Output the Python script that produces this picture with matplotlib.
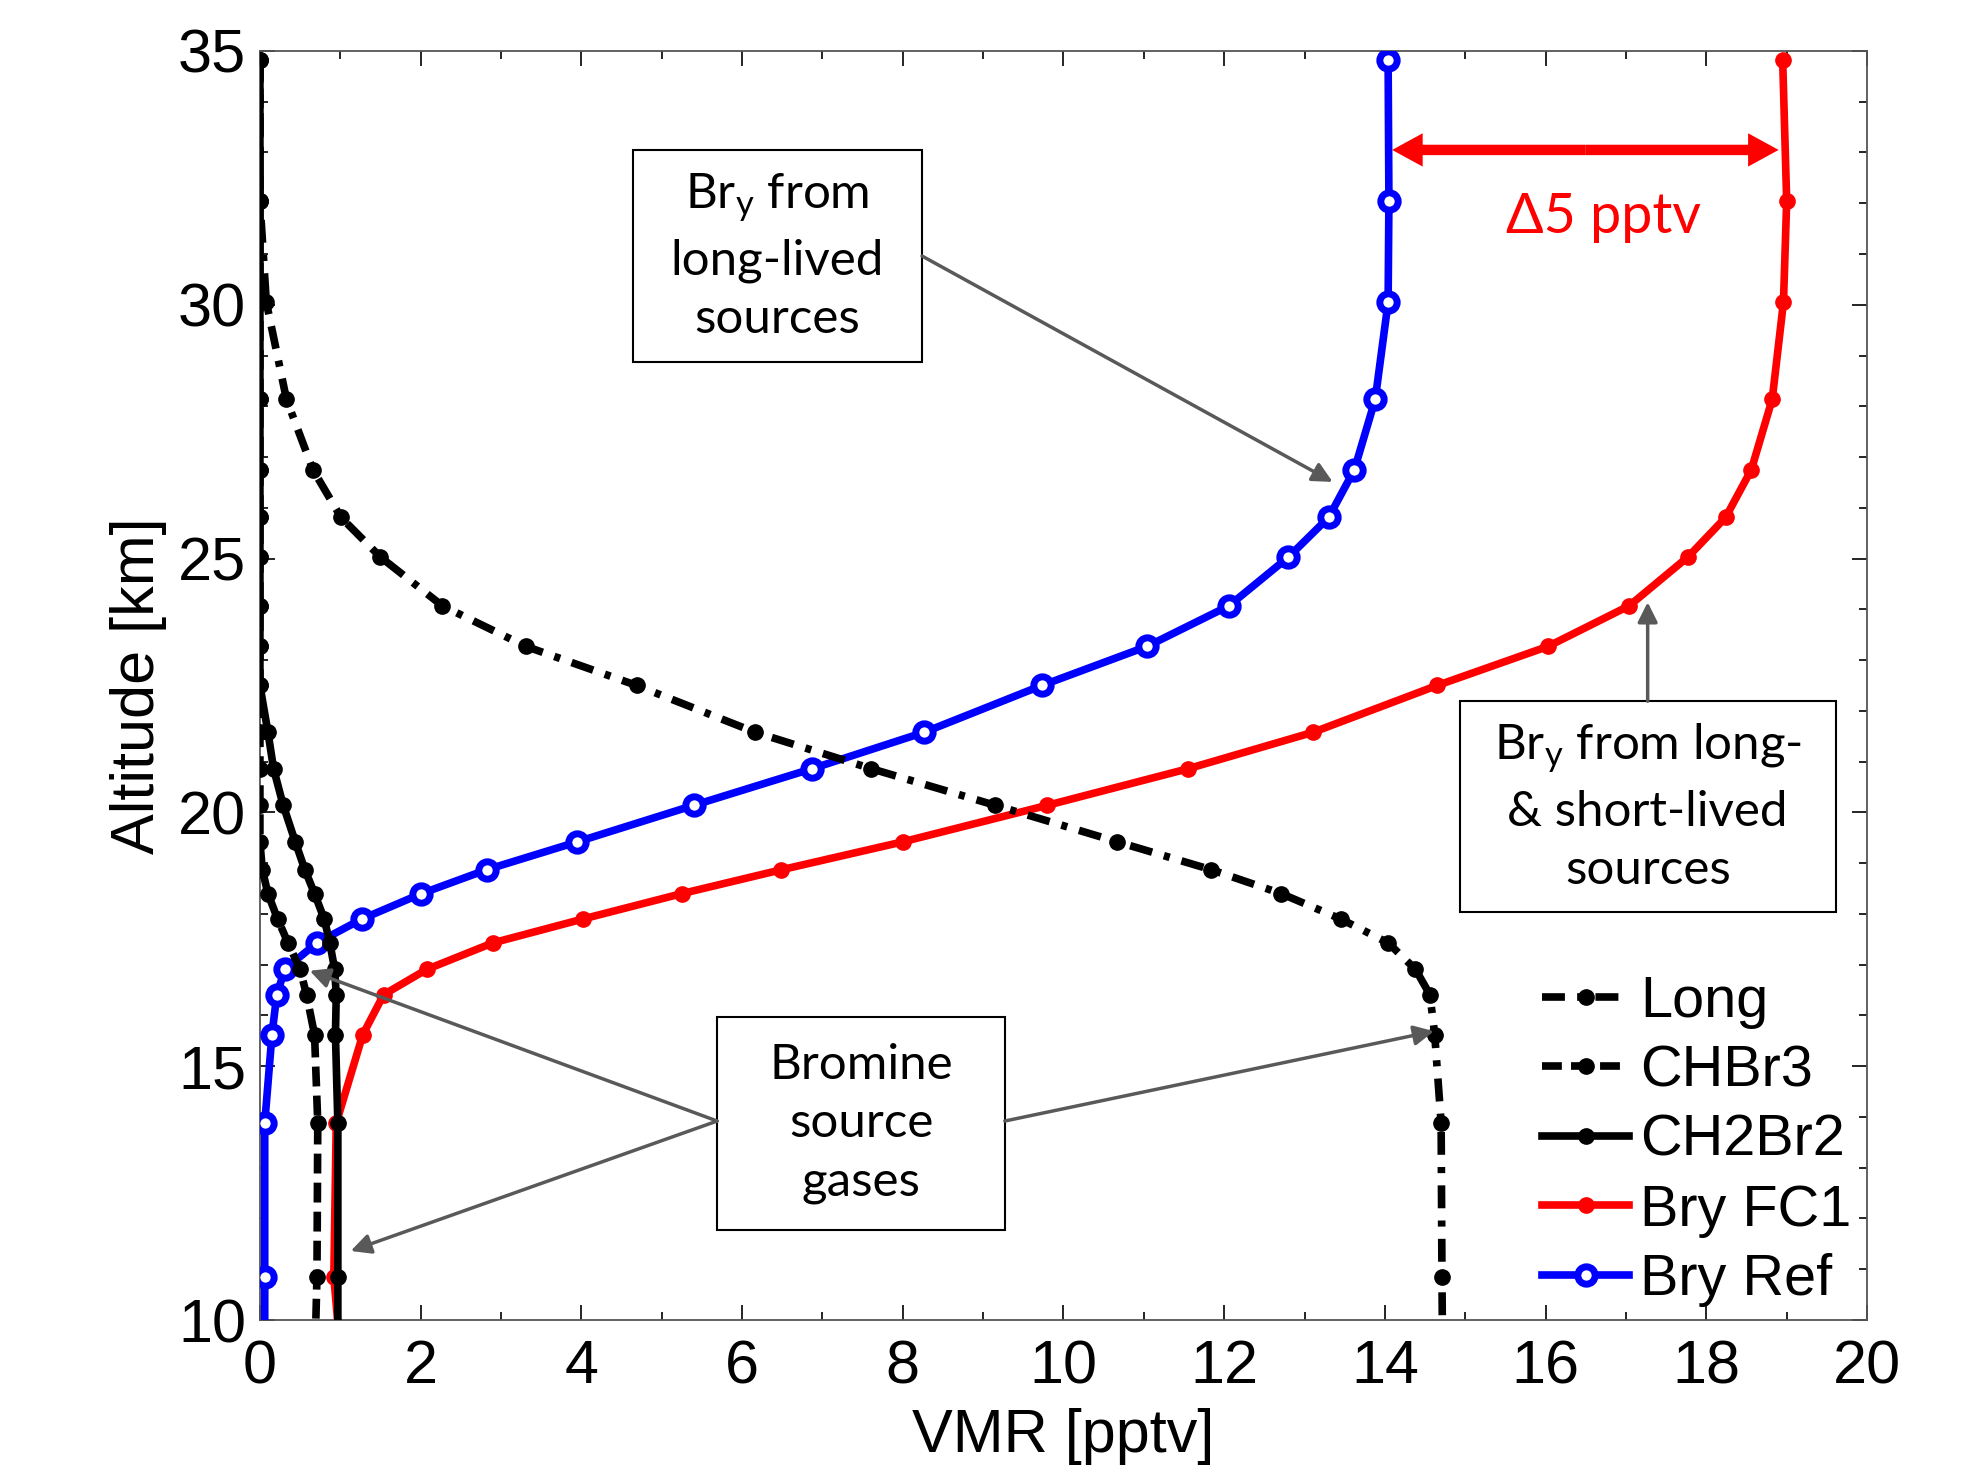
#!/usr/bin/env python3
"""Bromine source gas and Bry profiles vs altitude."""

import matplotlib
matplotlib.use("Agg")
import matplotlib.pyplot as plt
from matplotlib.patches import Rectangle
from matplotlib.ticker import MultipleLocator

# model levels [km] (last one sits below the plotted range)
alt_km = [34.83, 32.04, 30.05, 28.14, 26.75, 25.81, 25.03, 24.07, 23.27, 22.50,
          21.58, 20.86, 20.14, 19.42, 18.87, 18.40, 17.90, 17.43, 16.91, 16.41,
          15.62, 13.88, 10.85, 9.0]

vmr_long = [0.0, 0.0, 0.08, 0.33, 0.66, 1.01, 1.50, 2.27, 3.31, 4.69,
            6.16, 7.61, 9.15, 10.67, 11.84, 12.71, 13.45, 14.04, 14.38, 14.56,
            14.62, 14.70, 14.71, 14.72]
vmr_chbr3 = [0.0, 0.0, 0.0, 0.0, 0.0, 0.0, 0.0, 0.0, 0.0, 0.0,
             0.0, 0.0, 0.0, 0.0, 0.03, 0.10, 0.22, 0.35, 0.50, 0.58,
             0.68, 0.72, 0.71, 0.68]
vmr_ch2br2 = [0.0, 0.0, 0.0, 0.0, 0.0, 0.0, 0.0, 0.0, 0.0, 0.0,
              0.10, 0.17, 0.29, 0.44, 0.56, 0.68, 0.80, 0.87, 0.93, 0.95,
              0.94, 0.97, 0.97, 0.97]
vmr_bry_fc1 = [18.95, 19.00, 18.96, 18.82, 18.56, 18.24, 17.77, 17.04, 16.03, 14.65,
               13.11, 11.55, 9.80, 8.00, 6.49, 5.25, 4.02, 2.90, 2.08, 1.54,
               1.28, 0.95, 0.92, 1.02]
vmr_bry_ref = [14.04, 14.05, 14.04, 13.88, 13.62, 13.30, 12.80, 12.06, 11.04, 9.73,
               8.27, 6.87, 5.40, 3.95, 2.82, 2.01, 1.27, 0.71, 0.31, 0.21,
               0.15, 0.06, 0.06, 0.06]

BOX_FONT = ["Lato", "Open Sans", "DejaVu Sans"]
ARROW_GRAY = "#595959"

plt.rcParams.update({
    "font.family": ["Liberation Sans", "DejaVu Sans"],
    "font.size": 44,
    "mathtext.fontset": "custom",
    "mathtext.rm": "Lato",
    "mathtext.it": "Lato:italic",
})

fig = plt.figure(figsize=(19.78, 14.68), dpi=100)
ax = fig.add_axes([0.1314, 0.1008, 0.8125, 0.8645])

LW = 5.5
h_ref, = ax.plot(vmr_bry_ref, alt_km, "-o", color="#0000ff", lw=LW, ms=12.5,
                 mfc="white", mec="#0000ff", mew=5, label="Bry Ref", zorder=3)
h_fc1, = ax.plot(vmr_bry_fc1, alt_km, "-o", color="#ff0000", lw=LW, ms=11,
                 label="Bry FC1", zorder=3)
h_long, = ax.plot(vmr_long, alt_km, "-.o", color="black", lw=LW, ms=11,
                  dashes=(3.0, 1.6, 0.8, 1.6), label="Long", zorder=4)
h_chbr3, = ax.plot(vmr_chbr3, alt_km, "--o", color="black", lw=LW, ms=11,
                   dashes=(2.6, 1.2), label="CHBr3", zorder=4)
h_ch2br2, = ax.plot(vmr_ch2br2, alt_km, "-o", color="black", lw=LW, ms=11,
                    label="CH2Br2", zorder=4)

ax.set_xlim(0, 20)
ax.set_ylim(10, 35)
ax.xaxis.set_major_locator(MultipleLocator(2))
ax.xaxis.set_minor_locator(MultipleLocator(1))
ax.yaxis.set_major_locator(MultipleLocator(5))
ax.yaxis.set_minor_locator(MultipleLocator(1))
ax.tick_params(which="both", direction="in", top=True, right=True, width=1.2)
ax.tick_params(which="major", length=11)
ax.tick_params(which="minor", length=6)
ax.tick_params(axis="x", which="major", pad=14, labelsize=44)
ax.tick_params(axis="y", which="major", pad=10, labelsize=44)
for sp in ax.spines.values():
    sp.set_color("#555555")
    sp.set_linewidth(1.3)

ax.set_xlabel("VMR [pptv]", fontsize=44, labelpad=8)
ax.set_ylabel("Altitude [km]", fontsize=44, labelpad=8)

ax.legend(handles=[h_long, h_chbr3, h_ch2br2, h_fc1, h_ref],
          loc="upper left", bbox_to_anchor=(0.798, 0.272), frameon=False,
          fontsize=41.5, numpoints=1, handlelength=1.5, handletextpad=0.2,
          labelspacing=0.27, borderpad=0, borderaxespad=0)

# --- annotation boxes ---
def text_box(x0, y0, x1, y1, txt):
    ax.add_patch(Rectangle((x0, y0), x1 - x0, y1 - y0, fill=True, fc="white",
                           ec="black", lw=1.5, zorder=5))
    ax.text((x0 + x1) / 2, (y0 + y1) / 2, txt, ha="center", va="center",
            family=BOX_FONT, fontsize=35.5, linespacing=1.4, zorder=6)

def gray_arrow(start, end):
    ax.annotate("", xy=end, xytext=start, zorder=6,
                arrowprops=dict(arrowstyle="-|>", color=ARROW_GRAY, lw=2.5,
                                mutation_scale=30, shrinkA=0, shrinkB=0))

text_box(4.64, 28.87, 8.24, 33.05, "Br$_\\mathrm{y}$ from\nlong-lived\nsources")
gray_arrow((8.24, 30.96), (13.35, 26.51))

text_box(14.93, 18.04, 19.61, 22.19,
         "Br$_\\mathrm{y}$ from long-\n& short-lived\nsources")
gray_arrow((17.27, 22.19), (17.27, 24.14))

text_box(5.69, 11.77, 9.27, 15.97, "Bromine\nsource\ngases")
gray_arrow((5.69, 13.92), (0.62, 16.88))
gray_arrow((5.69, 13.92), (1.13, 11.36))
gray_arrow((9.27, 13.92), (14.61, 15.69))

# --- difference arrow between the two Bry profiles ---
x_mid = 16.5
for tip in (14.09, 18.90):
    ax.annotate("", xy=(tip, 33.05), xytext=(x_mid, 33.05), zorder=6,
                arrowprops=dict(arrowstyle="simple,head_length=2.2,head_width=2.4,tail_width=0.75",
                                color="#ff0000", lw=0, mutation_scale=10,
                                shrinkA=0, shrinkB=0))
ax.text(16.72, 31.71, "\u03945 pptv", color="#ff0000", ha="center", va="center",
        family=BOX_FONT, fontsize=40, zorder=6)

fig.savefig("out.png", dpi=100)
plt.close(fig)
